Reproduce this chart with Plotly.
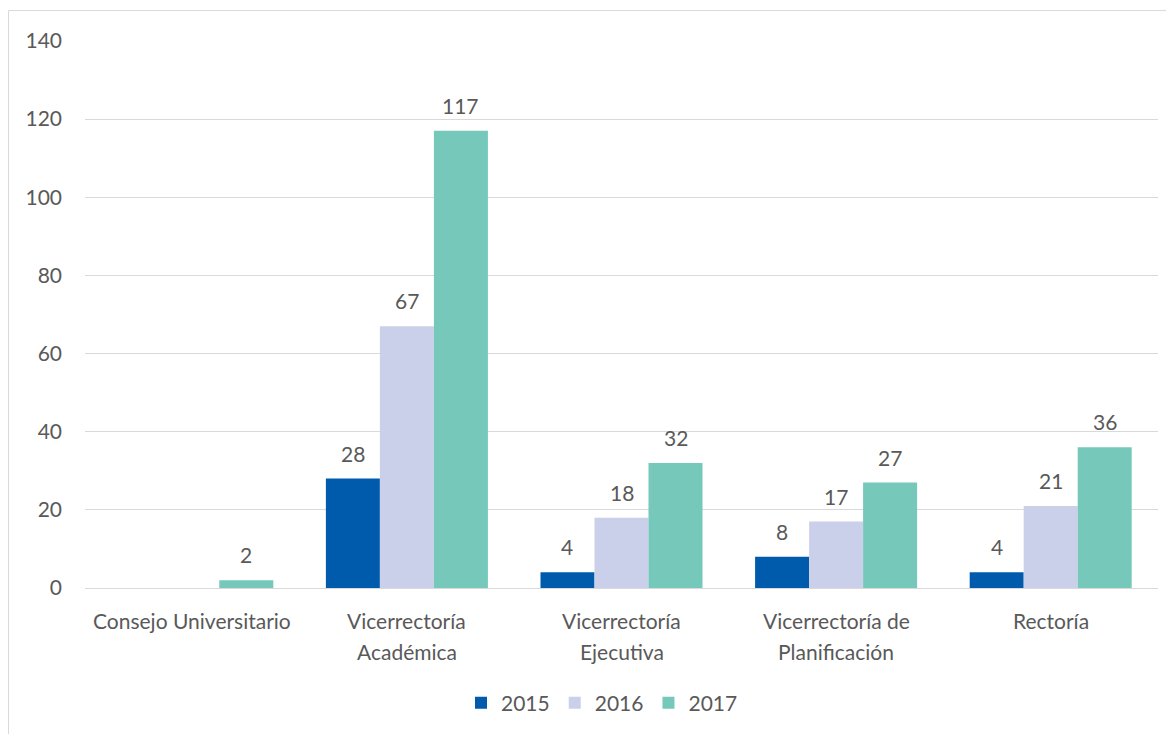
import plotly.graph_objects as go

categories = ["Consejo Universitario", "Vicerrectoría<br>Académica", "Vicerrectoría<br>Ejecutiva",
              "Vicerrectoría de<br>Planificación", "Rectoría"]
series_names = ["2015", "2016", "2017"]
values_2015 = [None, 28, 4, 8, 4]
values_2016 = [None, 67, 18, 17, 21]
values_2017 = [2, 117, 32, 27, 36]
colors = ["#005BAC", "#CBD0EA", "#76C8BA"]
y_ticks = [0, 20, 40, 60, 80, 100, 120, 140]

all_values = [values_2015, values_2016, values_2017]
FONT = "Lato"
FS = 21
TXT = "#595959"

# page body has an 8px default margin, so figure origin sits at (8, 8)
W, H = 1166, 726
L, R, T, B = 77, 16, 33, 145
PW = W - L - R
PH = H - T - B

fig = go.Figure()
for name, vals, col in zip(series_names, all_values, colors):
    fig.add_trace(go.Bar(x=categories, y=vals, name=name, marker=dict(color=col, line=dict(width=0))))

annotations = []
# data labels
bar_px = PW / 5 * (1 - 0.245) / 3
for i, vals in enumerate(all_values):
    for c, v in zip(categories, vals):
        if v is None:
            continue
        annotations.append(dict(x=c, y=v, xref="x", yref="y", text=str(v), showarrow=False,
                                xshift=(i - 1) * bar_px, yanchor="bottom", yshift=11,
                                font=dict(family=FONT, size=FS, color=TXT)))
# category labels (Excel-like line spacing)
for c in categories:
    for k, line in enumerate(c.split("<br>")):
        annotations.append(dict(x=c, y=0, xref="x", yref="y", text=line, showarrow=False,
                                yanchor="middle", yshift=-(32 + 31 * k),
                                font=dict(family=FONT, size=FS, color=TXT)))

fig.update_layout(
    width=W, height=H,
    margin=dict(l=L, r=R, t=T, b=B),
    paper_bgcolor="white", plot_bgcolor="white",
    barmode="group", bargap=0.245, bargroupgap=0,
    font=dict(family=FONT, size=FS, color=TXT),
    xaxis=dict(showgrid=False, showline=True, linecolor="#d9d9d9", linewidth=1, ticks="",
               showticklabels=False),
    yaxis=dict(range=[0, 140], tickvals=y_ticks, showgrid=True, gridcolor="#d9d9d9", gridwidth=1,
               zeroline=False, showline=False, ticks="", ticklabelstandoff=22,
               tickfont=dict(family=FONT, size=FS, color=TXT)),
    legend=dict(orientation="h", x=(602 - 85) / PW, xanchor="center", y=(581 - 695) / PH, yanchor="middle",
                font=dict(family=FONT, size=FS, color=TXT)),
    annotations=annotations,
    shapes=[dict(type="rect", xref="paper", yref="paper",
                 x0=(0.5 - L) / PW, x1=(1200 - L) / PW,
                 y0=(PH + T - 760) / PH, y1=(PH + T - 2.5) / PH,
                 line=dict(color="#d9d9d9", width=1), layer="below")],
)

fig.write_html("out.html")
